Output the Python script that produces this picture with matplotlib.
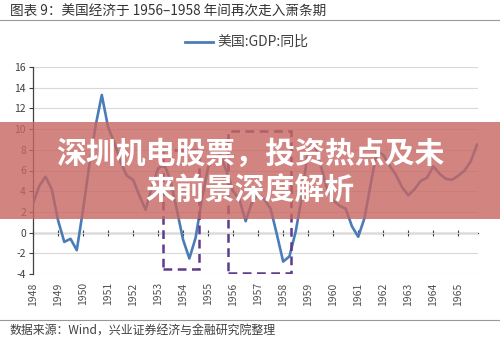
import matplotlib
matplotlib.use("Agg")
import matplotlib.pyplot as plt
import numpy as np
from matplotlib.patches import Rectangle

plt.rcParams['font.family'] = ['Noto Sans CJK SC', 'DejaVu Sans']

# ---- data (US GDP YoY, quarterly 1948Q1-1965Q4) ----
years = [str(y) for y in range(1948, 1966)]
gdp_yoy = [2.8, 4.5, 5.4, 4.2, 1.2, -0.9, -0.6, -1.7,
           2.2, 6.5, 10.3, 13.3, 10.2, 8.7, 6.8, 5.5,
           5.1, 3.6, 2.2, 4.4, 6.2, 6.6, 5.0, 2.2,
           -0.7, -2.5, -0.5, 3.2, 6.3, 7.3, 7.5, 5.8,
           4.0, 3.2, 1.1, 2.9, 3.7, 3.2, 2.3, -0.2,
           -2.8, -2.3, 0.1, 3.5, 8.1, 8.6, 6.5, 4.3,
           3.1, 2.6, 2.3, 0.6, -0.4, 1.4, 4.7, 7.9,
           7.5, 6.5, 5.6, 4.4, 3.6, 4.2, 5.0, 5.3,
           6.4, 5.7, 5.2, 5.1, 5.5, 6.0, 6.9, 8.5]
y_ticks = [-4, -2, 0, 2, 4, 6, 8, 10, 12, 14, 16]
# highlighted recession boxes: (start index, end index, low, high)
box1 = (20.8, 26.5, -3.5, 8.0)
box2 = (31.1, 41.3, -3.9, 9.8)

title = "图表 9：美国经济于 1956–1958 年间再次走入萧条期"
legend_label = "美国:GDP:同比"
source = "数据来源：Wind，兴业证券经济与金融研究院整理"
banner_l1 = "深圳机电股票，投资热点及未"
banner_l2 = "来前景深度解析"

fig = plt.figure(figsize=(5.0, 3.42), dpi=100)
W, H = 500, 342
ax = fig.add_axes([33 / W, (H - 274) / H, (478 - 33) / W, (274 - 67) / H])

x = np.arange(len(gdp_yoy))
line_color = '#4a7db8'
ax.plot(x, gdp_yoy, color=line_color, lw=1.9, zorder=3, label=legend_label)

purple = '#5e3b8f'
for (x0, x1, lo, hi) in (box1, box2):
    ax.add_patch(Rectangle((x0, lo), x1 - x0, hi - lo, fill=False,
                           edgecolor=purple, lw=1.8, ls=(0, (3.5, 2.2)), zorder=4))

ax.set_xlim(0, len(gdp_yoy) - 1 + 0.15)
ax.set_ylim(-4, 16)
ax.set_yticks(y_ticks)
ax.set_yticklabels([str(v) for v in y_ticks], fontsize=7.5, color='#404040')
ax.yaxis.grid(True, color='#d9d9d9', lw=0.8)
ax.set_axisbelow(True)

ax.set_xticks(np.arange(0, len(gdp_yoy), 4))
ax.set_xticklabels(years, rotation=90, fontsize=7.5, color='#505050')
ax.tick_params(axis='x', length=0, pad=6)
ax.tick_params(axis='y', length=3, color='#404040', pad=2)

for s in ('top', 'right', 'bottom'):
    ax.spines[s].set_visible(False)
ax.spines['left'].set_color('#404040')
ax.spines['left'].set_linewidth(0.9)

# zero axis line with tick marks
sec = ax.secondary_xaxis(0.2)
sec.set_xticks(np.arange(0, len(gdp_yoy), 4))
sec.set_xticklabels([])
sec.tick_params(direction='inout', length=4, color='#404040', width=0.8)
sec.spines['bottom'].set_color('#404040')
sec.spines['bottom'].set_linewidth(0.9)

# header / footer
fig.text(10 / W, 1 - 12 / H, title, fontsize=9.8, color='#333333', va='center', ha='left')
fig.add_artist(plt.Line2D([0, 1], [1 - 19.5 / H, 1 - 19.5 / H], color='#999999', lw=0.8))
fig.add_artist(plt.Line2D([185 / W, 213 / W], [1 - 42 / H, 1 - 42 / H], color=line_color, lw=2))
fig.text(217 / W, 1 - 42 / H, legend_label, fontsize=10, color='#404040', va='center', ha='left')
fig.add_artist(plt.Line2D([0, 1], [1 - 319.5 / H, 1 - 319.5 / H], color='#999999', lw=0.8))
fig.text(10 / W, 1 - 331 / H, source, fontsize=8.6, color='#404040', va='center', ha='left')

# banner overlay
fig.add_artist(Rectangle((0, 1 - 219 / H), 1, (219 - 122) / H, transform=fig.transFigure,
                         facecolor=(0.78, 0.40, 0.38), alpha=0.8, edgecolor='none', zorder=10))
fig.text(0.5, 1 - 154 / H, banner_l1, fontsize=21.5, fontweight='bold', color='white',
         ha='center', va='center', zorder=11)
fig.text(0.5, 1 - 190 / H, banner_l2, fontsize=21.5, fontweight='bold', color='white',
         ha='center', va='center', zorder=11)

fig.savefig('out.png', dpi=100)
